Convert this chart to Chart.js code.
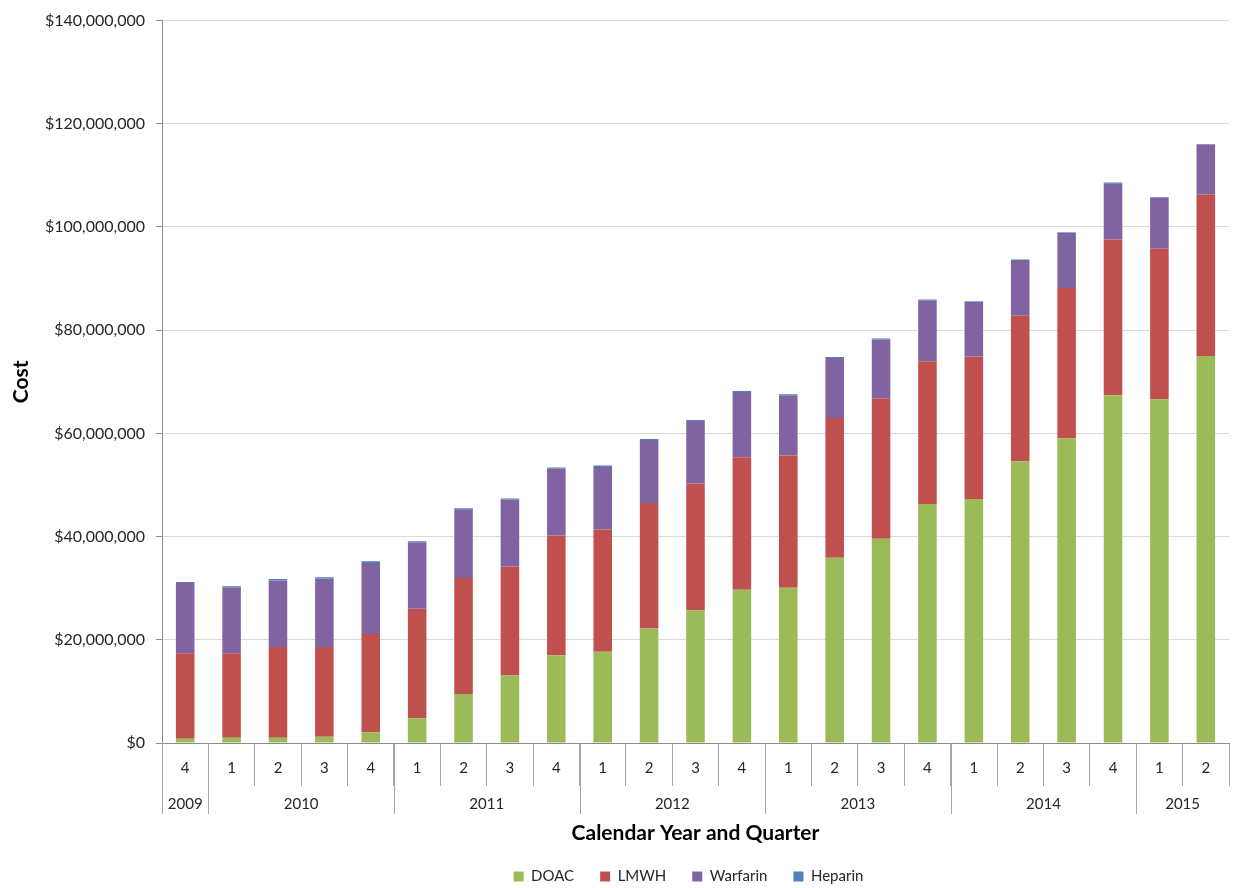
<!DOCTYPE html>
<html>
<head>
<meta charset="utf-8">
<script src="https://cdn.jsdelivr.net/npm/chart.js@4.4.0/dist/chart.umd.min.js"></script>
<style>
html,body{margin:0;padding:0;background:#fff;}
#wrap{width:1241px;height:888px;}
</style>
</head>
<body>
<div id="wrap"><canvas id="c" width="1241" height="888"></canvas></div>
<script>
const quarterLabels = ['4','1','2','3','4','1','2','3','4','1','2','3','4','1','2','3','4','1','2','3','4','1','2'];
const yearLabels = ['2009','2010','2010','2010','2010','2011','2011','2011','2011','2012','2012','2012','2012','2013','2013','2013','2013','2014','2014','2014','2014','2015','2015'];

const doac     = [800000,1000000,1000000,1200000,2100000,4800000,9500000,13100000,17000000,17700000,22200000,25700000,29700000,30100000,35900000,39600000,46300000,47300000,54600000,59000000,67400000,66600000,75000000];
const lmwh     = [16600000,16400000,17600000,17400000,19000000,21200000,22500000,21100000,23200000,23700000,24300000,24600000,25700000,25600000,27100000,27200000,27700000,27600000,28200000,29200000,30200000,29200000,31300000];
const warfarin = [13600000,12800000,12900000,13300000,13800000,12900000,13300000,13000000,13000000,12100000,12200000,12100000,12600000,11700000,11600000,11400000,11800000,10600000,10800000,10700000,10800000,9900000,9700000];
const heparin  = [200000,200000,300000,200000,300000,200000,200000,200000,200000,300000,200000,200000,200000,200000,200000,200000,150000,100000,100000,100000,200000,100000,100000];

const FONT = 'Lato, "Open Sans", "Liberation Sans", sans-serif';
const AXIS_GRAY = '#8C8C8C';
const SEP_GRAY = '#A6A6A6';
const LEGEND_PAD = 26;

const yearRowPlugin = {
  id: 'yearRow',
  afterLayout(chart) {
    const L = chart.legend;
    if (L) {
      const d = 843 - L.top;
      L.top += d; L.bottom += d;
      L.left -= 7; L.right -= 7;
    }
  },
  afterDraw(chart) {
    const x = chart.scales.x;
    const ctx = chart.ctx;
    const n = yearLabels.length;
    const half = (x.getPixelForValue(1) - x.getPixelForValue(0)) / 2;
    const top = x.top;
    ctx.save();
    ctx.strokeStyle = SEP_GRAY;
    ctx.lineWidth = 1;
    ctx.fillStyle = '#262626';
    ctx.font = '15px ' + FONT;
    ctx.textAlign = 'center';
    ctx.textBaseline = 'middle';
    let start = 0;
    for (let i = 1; i <= n; i++) {
      if (i === n || yearLabels[i] !== yearLabels[start]) {
        const left = x.getPixelForValue(start) - half;
        const right = x.getPixelForValue(i - 1) + half;
        const lx = Math.round(left) + 0.5;
        ctx.beginPath();
        ctx.moveTo(lx, top);
        ctx.lineTo(lx, top + 71);
        ctx.stroke();
        ctx.fillText(yearLabels[start], (left + right) / 2, top + 61);
        start = i;
      }
    }
    ctx.restore();
  }
};

new Chart(document.getElementById('c'), {
  type: 'bar',
  data: {
    labels: quarterLabels,
    datasets: [
      {label: 'DOAC', data: doac, backgroundColor: '#9BBB59'},
      {label: 'LMWH', data: lmwh, backgroundColor: '#C0504D'},
      {label: 'Warfarin', data: warfarin, backgroundColor: '#8064A2'},
      {label: 'Heparin', data: heparin, backgroundColor: '#4F81BD'}
    ]
  },
  options: {
    responsive: false,
    animation: false,
    layout: {padding: {top: 17, right: 12, left: 0, bottom: 0}},
    datasets: {bar: {categoryPercentage: 1.0, barPercentage: 0.4}},
    plugins: {
      legend: {
        position: 'bottom',
        fullSize: false,
        labels: {
          boxWidth: 10, boxHeight: 10, padding: LEGEND_PAD,
          color: '#262626',
          font: {family: FONT, size: 15}
        }
      },
      tooltip: {enabled: false}
    },
    scales: {
      x: {
        stacked: true,
        border: {display: true, color: AXIS_GRAY, width: 1},
        grid: {display: true, drawOnChartArea: false, drawTicks: true, tickLength: 43, offset: true, color: SEP_GRAY, tickColor: SEP_GRAY},
        ticks: {color: '#262626', font: {family: FONT, size: 15}, padding: -27, maxRotation: 0, autoSkip: false},
        title: {display: true, text: 'Calendar Year and Quarter', color: '#000', font: {family: FONT, size: 21, weight: 'bold'}, padding: {top: 0, bottom: -9}},
        afterFit(scale) {
          const L = scale.chart.legend;
          const lh = (L && L.height > 0) ? L.height : 52;
          scale.height = 888 - 742 - lh;
        }
      },
      y: {
        stacked: true,
        min: 0, max: 140000000,
        border: {display: true, color: AXIS_GRAY, width: 1},
        grid: {color: '#D9D9D9', tickColor: AXIS_GRAY, tickLength: 6, drawTicks: true},
        ticks: {
          stepSize: 20000000,
          color: '#262626',
          padding: 11,
          font: {family: FONT, size: 16},
          callback: v => '$' + Number(v).toLocaleString('en-US')
        },
        title: {display: true, text: 'Cost', color: '#000', font: {family: FONT, size: 21, weight: 'bold'}, padding: {top: 9, bottom: 0}},
        afterFit(scale) { scale.width = 162; }
      }
    }
  },
  plugins: [yearRowPlugin]
});
</script>
</body>
</html>
